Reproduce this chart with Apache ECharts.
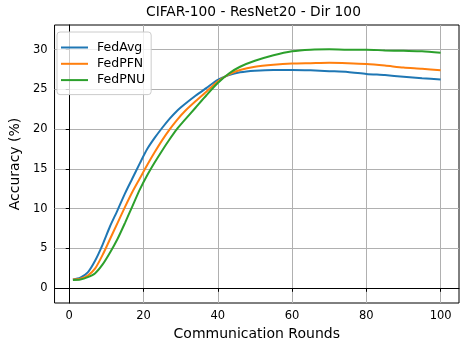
<!DOCTYPE html>
<html>
<head>
<meta charset="utf-8">
<script src="https://cdn.jsdelivr.net/npm/echarts@6/dist/echarts.min.js"></script>
<style>
  html, body { margin: 0; padding: 0; background: #fff; }
  #chart { width: 468px; height: 349px; }
</style>
</head>
<body>
<div id="chart"></div>
<script>
var rounds = [1, 3, 5, 7, 9, 11, 13, 15, 17, 19, 21, 23, 25, 27, 29, 31, 34, 37, 40, 43, 46, 50, 55, 60, 65, 70, 75, 80, 85, 90, 95, 100];
var fedAvg = [1.1, 1.35, 2.0, 3.5, 5.5, 7.8, 9.8, 11.9, 13.8, 15.7, 17.5, 18.9, 20.15, 21.3, 22.3, 23.1, 24.2, 25.2, 26.2, 26.8, 27.15, 27.35, 27.45, 27.45, 27.4, 27.3, 27.2, 26.95, 26.8, 26.6, 26.4, 26.25];
var fedPFN = [1.1, 1.2, 1.6, 2.5, 4.2, 6.2, 8.2, 10.2, 12.1, 13.8, 15.5, 17.1, 18.6, 19.95, 21.15, 22.2, 23.5, 24.75, 26.0, 26.9, 27.45, 27.85, 28.1, 28.25, 28.3, 28.35, 28.3, 28.2, 28.0, 27.75, 27.6, 27.4];
var fedPNU = [1.05, 1.1, 1.4, 1.9, 3.0, 4.5, 6.2, 8.2, 10.3, 12.4, 14.2, 15.8, 17.3, 18.7, 20.0, 21.1, 22.7, 24.3, 25.8, 27.0, 27.85, 28.6, 29.3, 29.8, 30.0, 30.05, 30.0, 30.0, 29.9, 29.85, 29.8, 29.6];
var xTicks = [0, 20, 40, 60, 80, 100];
var yTicks = [0, 5, 10, 15, 20, 25, 30];

function pairs(ys) {
  return rounds.map(function (r, i) { return [r, ys[i]]; });
}

var font = "DejaVu Sans";
var myChart = echarts.init(document.getElementById("chart"));

function mkSeries(name, ys, color) {
  return {
    name: name,
    type: "line",
    data: pairs(ys),
    symbol: "none",
    smooth: 0.25,
    lineStyle: { color: color, width: 2 },
    itemStyle: { color: color },
  };
}

var options = {
  animation: false,
  backgroundColor: "#fff",
  title: {
    text: "CIFAR-100 - ResNet20 - Dir 100",
    left: 146,
    top: 5,
    padding: 0,
    textStyle: { fontFamily: font, fontSize: 13.8, fontWeight: "normal", color: "#000" },
  },
  // 图例只画线，不画圆点
  legend: {
    orient: "vertical",
    left: 57,
    top: 32,
    padding: [9, 6, 8, 4],
    icon: "rect",
    itemGap: 3.3,
    itemWidth: 27,
    itemHeight: 2,
    backgroundColor: "rgba(255,255,255,0.8)",
    borderColor: "#cccccc",
    borderWidth: 1,
    borderRadius: 3,
    textStyle: { fontFamily: font, fontSize: 12.5, color: "#000", padding: [0, 0, 0, 4] },
    data: ["FedAvg", "FedPFN", "FedPNU"],
  },
  // 跟原图的绘图区对齐
  grid: {
    left: 50,
    right: 9,
    top: 25,
    bottom: 46,
    show: true,
    borderColor: "#000",
    borderWidth: 1,
    containLabel: false,
  },
  xAxis: {
    type: "value",
    min: -3.95,
    max: 104.95,
    name: "Communication Rounds",
    nameLocation: "middle",
    nameGap: 21,
    nameTextStyle: { fontFamily: font, fontSize: 14, color: "#000" },
    axisLine: { show: true, lineStyle: { color: "#000", width: 1 } },
    axisTick: { show: true, length: 3.5, customValues: xTicks, lineStyle: { color: "#000" } },
    axisLabel: { customValues: xTicks, margin: 7, fontFamily: font, fontSize: 11.5, color: "#000" },
    splitLine: { show: true, lineStyle: { color: "#b0b0b0", width: 1 } },
  },
  yAxis: {
    type: "value",
    min: -1.85,
    max: 33.1,
    name: "Accuracy (%)",
    nameLocation: "middle",
    nameGap: 28,
    nameTextStyle: { fontFamily: font, fontSize: 14, color: "#000" },
    axisLine: { show: true, lineStyle: { color: "#000", width: 1 } },
    axisTick: { show: true, length: 3.5, customValues: yTicks, lineStyle: { color: "#000" } },
    axisLabel: { customValues: yTicks, margin: 7, fontFamily: font, fontSize: 11.5, color: "#000" },
    splitLine: { show: true, lineStyle: { color: "#b0b0b0", width: 1 } },
  },
  series: [
    mkSeries("FedAvg", fedAvg, "#1f77b4"),
    mkSeries("FedPFN", fedPFN, "#ff7f0e"),
    mkSeries("FedPNU", fedPNU, "#2ca02c"),
  ],
};

myChart.setOption(options);
</script>
</body>
</html>
